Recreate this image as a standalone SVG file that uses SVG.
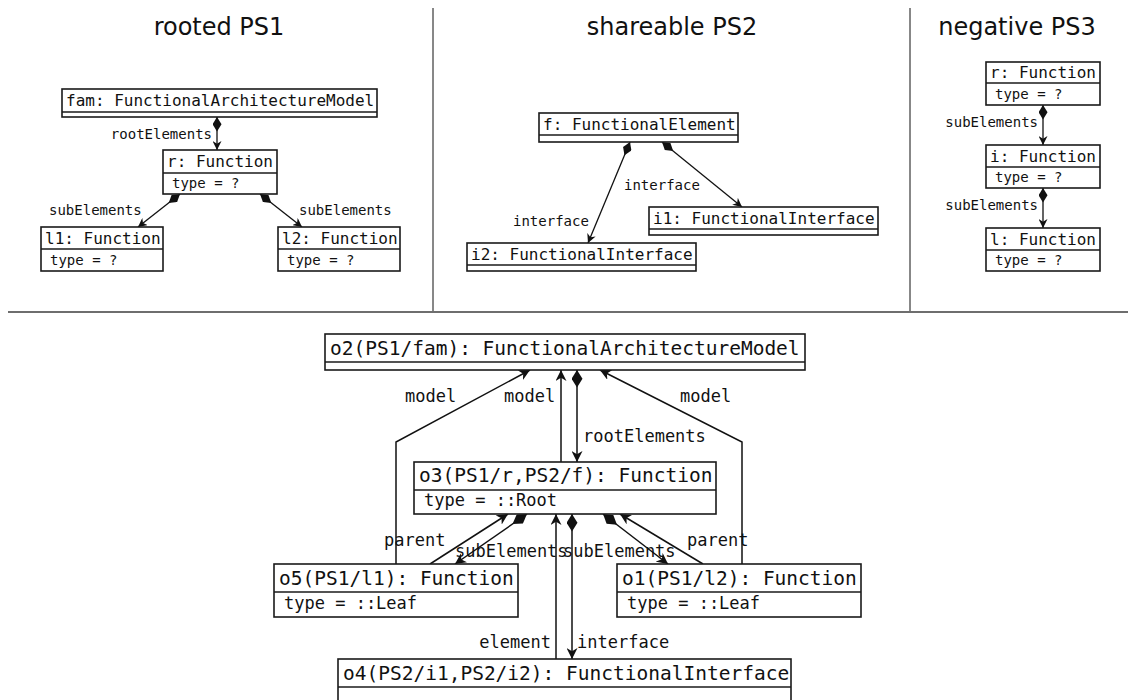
<svg xmlns="http://www.w3.org/2000/svg" width="1128" height="700" viewBox="0 0 1128 700">
  <style>
    .bg { fill: #ffffff; }
    .box { fill: #ffffff; stroke: #1a1a1a; stroke-width: 1.6; }
    .div { stroke: #1a1a1a; stroke-width: 1.4; }
    .sep { stroke: #111111; stroke-width: 1; }
    .hsep { stroke: #6e6e6e; stroke-width: 2.2; }
    .title { font-family: "DejaVu Sans", "Liberation Sans", sans-serif; font-size: 24px; fill: #111; text-anchor: middle; }
    .hd { font-family: "DejaVu Sans Mono", "Liberation Mono", monospace; font-size: 16px; fill: #111; }
    .at { font-family: "DejaVu Sans Mono", "Liberation Mono", monospace; font-size: 14px; fill: #111; }
    .lb { font-family: "DejaVu Sans Mono", "Liberation Mono", monospace; font-size: 14px; fill: #111; }
    .hdL { font-family: "DejaVu Sans Mono", "Liberation Mono", monospace; font-size: 19.5px; fill: #111; }
    .atL { font-family: "DejaVu Sans Mono", "Liberation Mono", monospace; font-size: 17px; fill: #111; }
    .lbL { font-family: "DejaVu Sans Mono", "Liberation Mono", monospace; font-size: 17px; fill: #111; }
    .ln { fill: none; stroke: #111; stroke-width: 1.3; }
    .lnL { fill: none; stroke: #111; stroke-width: 1.5; }
    .end { text-anchor: end; }
  </style>
  <defs>
    <marker id="arr" viewBox="0 0 10 10" refX="10" refY="5" markerWidth="9" markerHeight="9" markerUnits="userSpaceOnUse" orient="auto">
      <path d="M0,0 L10,5 L0,10 L3,5 z" fill="#111"/>
    </marker>
    <marker id="dia" viewBox="0 0 16 10" refX="0" refY="5" markerWidth="15" markerHeight="9" markerUnits="userSpaceOnUse" orient="auto">
      <path d="M0,5 L8,0 L16,5 L8,10 z" fill="#111"/>
    </marker>
    <marker id="arrL" viewBox="0 0 10 10" refX="10" refY="5" markerWidth="11" markerHeight="11" markerUnits="userSpaceOnUse" orient="auto">
      <path d="M0,0 L10,5 L0,10 L3,5 z" fill="#111"/>
    </marker>
    <marker id="diaL" viewBox="0 0 16 10" refX="0" refY="5" markerWidth="19" markerHeight="11" markerUnits="userSpaceOnUse" orient="auto">
      <path d="M0,5 L8,0 L16,5 L8,10 z" fill="#111"/>
    </marker>
  </defs>

  <rect class="bg" x="0" y="0" width="1128" height="700"/>

  <!-- panel separators -->
  <g id="separators">
    <line class="sep" x1="433" y1="8" x2="433" y2="312"/>
    <line class="sep" x1="910" y1="8" x2="910" y2="312"/>
    <line class="hsep" x1="8" y1="312" x2="1128" y2="312"/>
  </g>

  <!-- panel titles -->
  <g id="titles">
    <text class="title" x="219" y="35">rooted PS1</text>
    <text class="title" x="672" y="35">shareable PS2</text>
    <text class="title" x="1017" y="35">negative PS3</text>
  </g>

  <!-- connectors -->
  <g id="connectors">
    <!-- PS1 -->
    <line class="ln" x1="217" y1="117" x2="217" y2="150" marker-start="url(#dia)" marker-end="url(#arr)"/>
    <line class="ln" x1="180" y1="194" x2="138" y2="227" marker-start="url(#dia)" marker-end="url(#arr)"/>
    <line class="ln" x1="260" y1="194" x2="302" y2="227" marker-start="url(#dia)" marker-end="url(#arr)"/>
    <text class="lb end" x="212" y="139">rootElements</text>
    <text class="lb" x="49" y="215">subElements</text>
    <text class="lb" x="299" y="215">subElements</text>

    <!-- PS2 -->
    <line class="ln" x1="630" y1="142" x2="588" y2="243" marker-start="url(#dia)" marker-end="url(#arr)"/>
    <line class="ln" x1="662" y1="142" x2="742" y2="207" marker-start="url(#dia)" marker-end="url(#arr)"/>
    <text class="lb" x="624" y="190">interface</text>
    <text class="lb" x="513" y="226">interface</text>

    <!-- PS3 -->
    <line class="ln" x1="1043" y1="105" x2="1043" y2="145" marker-start="url(#dia)" marker-end="url(#arr)"/>
    <line class="ln" x1="1043" y1="188" x2="1043" y2="228" marker-start="url(#dia)" marker-end="url(#arr)"/>
    <text class="lb end" x="1038" y="127">subElements</text>
    <text class="lb end" x="1038" y="210">subElements</text>

    <!-- merged object graph -->
    <polyline class="lnL" points="396,564 396,442 530,370" marker-end="url(#arrL)"/>
    <line class="lnL" x1="561" y1="462" x2="561" y2="370" marker-end="url(#arrL)"/>
    <line class="lnL" x1="577" y1="370" x2="577" y2="462" marker-start="url(#diaL)" marker-end="url(#arrL)"/>
    <polyline class="lnL" points="742,564 742,442 600,370" marker-end="url(#arrL)"/>
    <text class="lbL" x="405" y="402">model</text>
    <text class="lbL" x="504" y="402">model</text>
    <text class="lbL" x="680" y="402">model</text>
    <text class="lbL" x="583" y="442">rootElements</text>

    <line class="lnL" x1="430" y1="564" x2="508" y2="514" marker-end="url(#arrL)"/>
    <line class="lnL" x1="527" y1="514" x2="455" y2="564" marker-start="url(#diaL)" marker-end="url(#arrL)"/>
    <line class="lnL" x1="603" y1="514" x2="668" y2="564" marker-start="url(#diaL)" marker-end="url(#arrL)"/>
    <line class="lnL" x1="703" y1="564" x2="620" y2="514" marker-end="url(#arrL)"/>
    <text class="lbL" x="384" y="546">parent</text>
    <text class="lbL" x="455" y="557">subElements</text>
    <text class="lbL" x="563" y="557">subElements</text>
    <text class="lbL" x="687" y="546">parent</text>

    <line class="lnL" x1="556" y1="659" x2="556" y2="514" marker-end="url(#arrL)"/>
    <line class="lnL" x1="572" y1="514" x2="572" y2="659" marker-start="url(#diaL)" marker-end="url(#arrL)"/>
    <text class="lbL end" x="551" y="648">element</text>
    <text class="lbL" x="577" y="648">interface</text>
  </g>

  <!-- PS1 nodes -->
  <g id="ps1-fam">
    <rect class="box" x="62" y="89" width="315" height="28"/>
    <line class="div" x1="62" y1="112" x2="377" y2="112"/>
    <text class="hd" x="66" y="106">fam: FunctionalArchitectureModel</text>
  </g>
  <g id="ps1-r">
    <rect class="box" x="163" y="150" width="114" height="44"/>
    <line class="div" x1="163" y1="173" x2="277" y2="173"/>
    <text class="hd" x="167" y="167">r: Function</text>
    <text class="at" x="172" y="188">type = ?</text>
  </g>
  <g id="ps1-l1">
    <rect class="box" x="41" y="227" width="122" height="44"/>
    <line class="div" x1="41" y1="249" x2="163" y2="249"/>
    <text class="hd" x="45" y="244">l1: Function</text>
    <text class="at" x="50" y="265">type = ?</text>
  </g>
  <g id="ps1-l2">
    <rect class="box" x="278" y="227" width="122" height="44"/>
    <line class="div" x1="278" y1="249" x2="400" y2="249"/>
    <text class="hd" x="282" y="244">l2: Function</text>
    <text class="at" x="287" y="265">type = ?</text>
  </g>

  <!-- PS2 nodes -->
  <g id="ps2-f">
    <rect class="box" x="539" y="113" width="199" height="29"/>
    <line class="div" x1="539" y1="135" x2="738" y2="135"/>
    <text class="hd" x="543" y="130">f: FunctionalElement</text>
  </g>
  <g id="ps2-i1">
    <rect class="box" x="649" y="207" width="229" height="28"/>
    <line class="div" x1="649" y1="229" x2="878" y2="229"/>
    <text class="hd" x="653" y="224">i1: FunctionalInterface</text>
  </g>
  <g id="ps2-i2">
    <rect class="box" x="467" y="243" width="229" height="28"/>
    <line class="div" x1="467" y1="265" x2="696" y2="265"/>
    <text class="hd" x="471" y="260">i2: FunctionalInterface</text>
  </g>

  <!-- PS3 nodes -->
  <g id="ps3-r">
    <rect class="box" x="986" y="62" width="114" height="43"/>
    <line class="div" x1="986" y1="83" x2="1100" y2="83"/>
    <text class="hd" x="990" y="78">r: Function</text>
    <text class="at" x="995" y="99">type = ?</text>
  </g>
  <g id="ps3-i">
    <rect class="box" x="986" y="145" width="114" height="43"/>
    <line class="div" x1="986" y1="167" x2="1100" y2="167"/>
    <text class="hd" x="990" y="162">i: Function</text>
    <text class="at" x="995" y="182">type = ?</text>
  </g>
  <g id="ps3-l">
    <rect class="box" x="986" y="228" width="114" height="43"/>
    <line class="div" x1="986" y1="250" x2="1100" y2="250"/>
    <text class="hd" x="990" y="245">l: Function</text>
    <text class="at" x="995" y="265">type = ?</text>
  </g>

  <!-- merged object graph nodes -->
  <g id="o2">
    <rect class="box" x="325" y="334" width="480" height="36"/>
    <line class="div" x1="325" y1="362" x2="805" y2="362"/>
    <text class="hdL" x="330" y="355">o2(PS1/fam): FunctionalArchitectureModel</text>
  </g>
  <g id="o3">
    <rect class="box" x="414" y="462" width="302" height="52"/>
    <line class="div" x1="414" y1="490" x2="716" y2="490"/>
    <text class="hdL" x="419" y="482">o3(PS1/r,PS2/f): Function</text>
    <text class="atL" x="424" y="506">type = ::Root</text>
  </g>
  <g id="o5">
    <rect class="box" x="274" y="564" width="244" height="53"/>
    <line class="div" x1="274" y1="592" x2="518" y2="592"/>
    <text class="hdL" x="279" y="585">o5(PS1/l1): Function</text>
    <text class="atL" x="284" y="609">type = ::Leaf</text>
  </g>
  <g id="o1">
    <rect class="box" x="617" y="564" width="244" height="53"/>
    <line class="div" x1="617" y1="592" x2="861" y2="592"/>
    <text class="hdL" x="622" y="585">o1(PS1/l2): Function</text>
    <text class="atL" x="627" y="609">type = ::Leaf</text>
  </g>
  <g id="o4">
    <rect class="box" x="338" y="659" width="453" height="60"/>
    <line class="div" x1="338" y1="687" x2="791" y2="687"/>
    <text class="hdL" x="343" y="680">o4(PS2/i1,PS2/i2): FunctionalInterface</text>
  </g>
</svg>
